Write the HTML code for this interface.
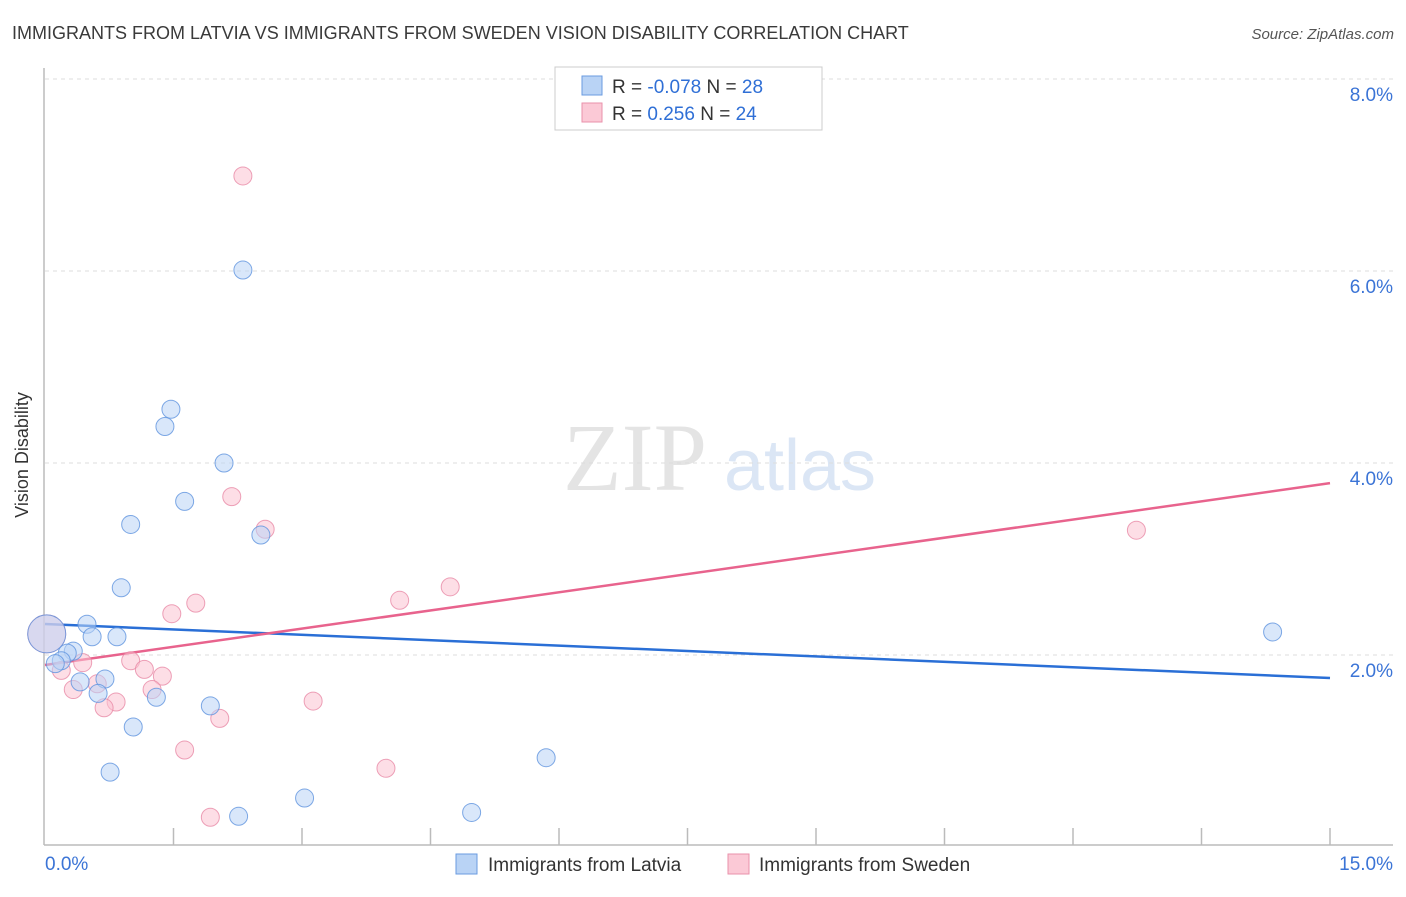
<!DOCTYPE html>
<html><head><meta charset="utf-8"><style>
body{margin:0;background:#fff;font-family:"Liberation Sans",sans-serif}
</style></head><body>
<svg id="c" width="1406" height="892" xmlns="http://www.w3.org/2000/svg" font-family="Liberation Sans, sans-serif">
<text x="12" y="39" font-size="18" fill="#3a3a3a">IMMIGRANTS FROM LATVIA VS IMMIGRANTS FROM SWEDEN VISION DISABILITY CORRELATION CHART</text>
<text x="1394" y="39" font-size="15" fill="#555" font-style="italic" text-anchor="end">Source: ZipAtlas.com</text>
<text x="28" y="455" font-size="18" fill="#333" text-anchor="middle" transform="rotate(-90 28 455)">Vision Disability</text>
<g><text x="635" y="490" font-size="96" fill="#e4e4e4" font-family="Liberation Serif, serif" text-anchor="middle">ZIP</text><text x="800" y="490" font-size="72" fill="#dbe6f5" text-anchor="middle">atlas</text></g>
<g id="grid"></g><g id="axes"></g><g id="lines"></g><g id="pts"></g>
<g>
<rect x="555" y="67" width="267" height="63" fill="#fff" stroke="#ccc"/>
<rect x="582" y="76" width="20" height="19" fill="#b9d3f5" stroke="#6a9be0"/>
<rect x="582" y="103" width="20" height="19" fill="#fbc9d6" stroke="#ea91ab"/>
<text x="612" y="93" font-size="19" fill="#333">R = <tspan fill="#2f6fd6">-0.078</tspan>   N = <tspan fill="#2f6fd6">28</tspan></text>
<text x="612" y="120" font-size="19" fill="#333">R =   <tspan fill="#2f6fd6">0.256</tspan>   N = <tspan fill="#2f6fd6">24</tspan></text>
</g>
<g>
<rect x="456" y="854" width="21" height="20" fill="#b9d3f5" stroke="#6a9be0"/>
<text x="488" y="871" font-size="19" fill="#333">Immigrants from Latvia</text>
<rect x="728" y="854" width="21" height="20" fill="#fbc9d6" stroke="#ea91ab"/>
<text x="759" y="871" font-size="19" fill="#333">Immigrants from Sweden</text>
</g>
</svg>
<script>
const latviaX=[2.31,1.47,1.40,2.09,1.63,1.00,2.52,0.89,0.49,0.55,0.84,0.33,0.26,0.19,0.12,0.41,0.70,0.62,1.30,1.93,1.03,0.76,3.03,2.26,4.98,5.85,14.33,0.02];
const latviaY=[6.01,4.56,4.38,4.00,3.60,3.36,3.25,2.70,2.32,2.19,2.19,2.04,2.02,1.94,1.91,1.72,1.75,1.60,1.56,1.47,1.25,0.78,0.51,0.32,0.36,0.93,2.24,2.22];
const swedenX=[2.31,2.18,2.57,4.14,4.73,1.76,1.48,1.00,0.44,1.16,1.37,0.19,0.61,0.33,1.25,0.83,0.69,3.13,2.04,1.63,3.98,1.93,12.74,0.02];
const swedenY=[6.99,3.65,3.31,2.57,2.71,2.54,2.43,1.94,1.92,1.85,1.78,1.84,1.70,1.64,1.64,1.51,1.45,1.52,1.34,1.01,0.82,0.31,3.30,2.22];
const latviaTrend=[2.323,1.76];
const swedenTrend=[1.896,3.79];
const yTicks=[2,4,6,8];
const yTickLabels=["2.0%","4.0%","6.0%","8.0%"];
const xTicks=[1.5,3,4.5,6,7.5,9,10.5,12,13.5,15];
const xs=v=>45+v/15*1285, ys=v=>847-v*96;
const NS="http://www.w3.org/2000/svg";
function mk(p,t,a){const e=document.createElementNS(NS,t);for(const k in a)e.setAttribute(k,a[k]);document.getElementById(p).appendChild(e);return e;}
yTicks.forEach((v,i)=>{
 const g=mk('grid','line',{x1:45,x2:1393,y1:ys(v),y2:ys(v),stroke:'#ddd','stroke-dasharray':'4,4'});
 
 
 const t=mk('grid','text',{x:1393,y:ys(v)+22,'font-size':19,fill:'#3b74d6','text-anchor':'end'});
 t.textContent=yTickLabels[i];
 
 
});
mk('grid','line',{x1:45,x2:1393,y1:79,y2:79,stroke:'#ddd','stroke-dasharray':'4,4'});
const ya=mk('axes','line',{x1:44,x2:44,y1:68,y2:845,stroke:'#bbb','stroke-width':1.5});


const xa=mk('axes','line',{x1:44,x2:1393,y1:845,y2:845,stroke:'#bbb','stroke-width':1.5});


xTicks.forEach(v=>{
 const l=mk('axes','line',{x1:xs(v),x2:xs(v),y1:828,y2:845,stroke:'#bbb','stroke-width':1.5});
 
 
});
const t0=mk('axes','text',{x:45,y:870,'font-size':19,fill:'#3b74d6'});t0.textContent='0.0%';


const t1=mk('axes','text',{x:1393,y:870,'font-size':19,fill:'#3b74d6','text-anchor':'end'});t1.textContent='15.0%';


function pts(X,Y,fill,stroke,name){X.forEach((x,i)=>{
 const big=i===X.length-1;
 const c=mk('pts','circle',{cx:xs(x),cy:ys(Y[i]),r:big?19:9,fill:fill,'fill-opacity':0.55,stroke:stroke,'stroke-opacity':0.8});
 
 
});}
pts(swedenX,swedenY,'#fbc3d2','#e88aa6','point-sweden');
pts(latviaX,latviaY,'#b9d3f5','#5f94df','point-latvia');
const bl=mk('lines','line',{x1:xs(0),y1:ys(latviaTrend[0]),x2:xs(15),y2:ys(latviaTrend[1]),stroke:'#2a6fd6','stroke-width':2.5});


const pl=mk('lines','line',{x1:xs(0),y1:ys(swedenTrend[0]),x2:xs(15),y2:ys(swedenTrend[1]),stroke:'#e8638d','stroke-width':2.5});


</script>
</body></html>
